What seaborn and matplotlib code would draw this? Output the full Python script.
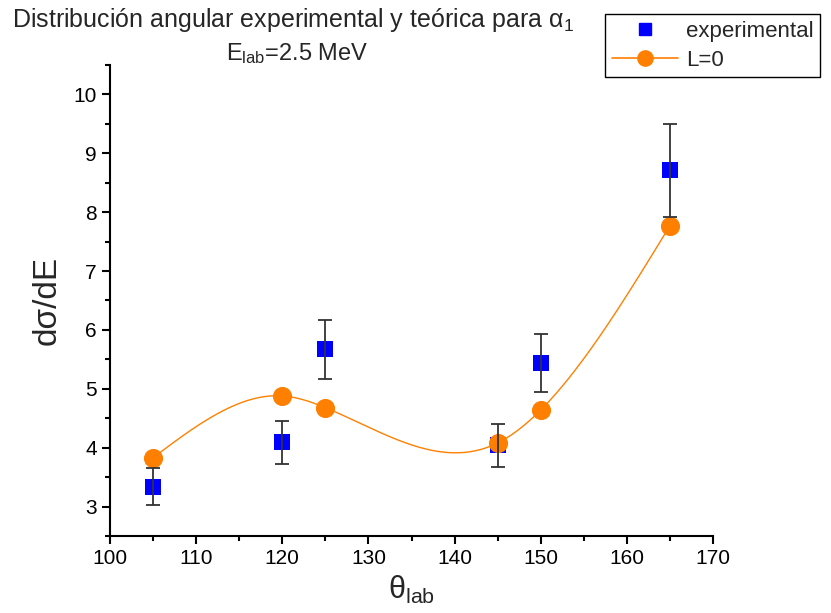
import numpy as np
import pandas as pd
import matplotlib
matplotlib.use("Agg")
import matplotlib.pyplot as plt
import seaborn as sns
from matplotlib.ticker import MultipleLocator
from matplotlib.lines import Line2D

# Measured angular distribution
theta_exp = [105, 120, 125, 145, 150, 165]
sigma_exp = [3.34, 4.09, 5.67, 4.04, 5.44, 8.71]
sigma_err = [0.31, 0.37, 0.50, 0.36, 0.49, 0.79]

# Theoretical values (L=0)
theta_th = [105, 120, 125, 145, 150, 165]
sigma_th = [3.83, 4.88, 4.68, 4.08, 4.64, 7.77]

x_ticks = [100, 110, 120, 130, 140, 150, 160, 170]
y_ticks = [3, 4, 5, 6, 7, 8, 9, 10]


def natural_spline(x, y, n=400):
    """Smooth natural cubic spline through the given nodes."""
    x = np.asarray(x, float)
    y = np.asarray(y, float)
    m = len(x)
    h = np.diff(x)
    A = np.zeros((m, m))
    b = np.zeros(m)
    A[0, 0] = A[-1, -1] = 1.0
    for i in range(1, m - 1):
        A[i, i - 1] = h[i - 1]
        A[i, i] = 2 * (h[i - 1] + h[i])
        A[i, i + 1] = h[i]
        b[i] = 3 * ((y[i + 1] - y[i]) / h[i] - (y[i] - y[i - 1]) / h[i - 1])
    c = np.linalg.solve(A, b)
    xs = np.linspace(x[0], x[-1], n)
    idx = np.clip(np.searchsorted(x, xs) - 1, 0, m - 2)
    hi = h[idx]
    bi = (y[idx + 1] - y[idx]) / hi - hi * (2 * c[idx] + c[idx + 1]) / 3
    di = (c[idx + 1] - c[idx]) / (3 * hi)
    t = xs - x[idx]
    ys = y[idx] + bi * t + c[idx] * t ** 2 + di * t ** 3
    return xs, ys


sns.set_theme(style="ticks")
fam = ["Liberation Sans Narrow", "Liberation Sans", "DejaVu Sans"]
plt.rcParams["font.family"] = fam
plt.rcParams["mathtext.fontset"] = "custom"
plt.rcParams["mathtext.rm"] = fam[1]
plt.rcParams["mathtext.it"] = fam[1]

fig = plt.figure(figsize=(8.31, 6.13), dpi=100)
ax = fig.add_axes([0.1324, 0.1256, 0.7256, 0.7684])

orange = "#FF8000"
blue = "#0000FF"

xs, ys = natural_spline(theta_th, sigma_th)
curve = pd.DataFrame({"theta": xs, "sigma": ys})
sns.lineplot(data=curve, x="theta", y="sigma", ax=ax, color=orange,
             linewidth=1.0, zorder=2, estimator=None, sort=False)

exp_df = pd.DataFrame({"theta": theta_exp, "sigma": sigma_exp})
th_df = pd.DataFrame({"theta": theta_th, "sigma": sigma_th})

sns.scatterplot(data=exp_df, x="theta", y="sigma", ax=ax, marker="s", s=130,
                color=blue, edgecolor=blue, linewidth=0, zorder=3)
sns.scatterplot(data=th_df, x="theta", y="sigma", ax=ax, marker="o", s=190,
                color=orange, edgecolor=orange, linewidth=0, zorder=4)
ax.errorbar(theta_exp, sigma_exp, yerr=sigma_err, fmt="none", ecolor="#333333",
            elinewidth=1.3, capsize=5, capthick=1.3, zorder=5)

ax.set_xlim(100, 170)
ax.set_ylim(2.5, 10.5)
ax.set_xticks(x_ticks)
ax.set_yticks(y_ticks)
ax.xaxis.set_minor_locator(MultipleLocator(5))
ax.yaxis.set_minor_locator(MultipleLocator(0.5))
ax.tick_params(axis="both", which="major", direction="out", length=6, width=1.5,
               labelsize=15, color="black", labelcolor="black")
ax.tick_params(axis="both", which="minor", direction="out", length=3.5, width=1.5,
               color="black")
for side in ("top", "right"):
    ax.spines[side].set_visible(False)
for side in ("left", "bottom"):
    ax.spines[side].set_linewidth(1.5)
    ax.spines[side].set_color("black")

ax.set_xlabel(r"θ$_{\mathrm{lab}}$", fontsize=22, labelpad=4)
ax.set_ylabel("dσ/dE", fontsize=24, labelpad=8)

fig.text(0.352, 0.967, r"Distribución angular experimental y teórica para α$_{1}$",
         ha="center", va="center", fontsize=18)
fig.text(0.358, 0.912, r"E$_{\mathrm{lab}}$=2.5 MeV", ha="center", va="center",
         fontsize=17)

handles = [
    Line2D([], [], marker="s", color=blue, linestyle="none", markersize=8),
    Line2D([], [], marker="o", color=orange, linestyle="-", linewidth=1.2,
           markersize=11),
]
leg = fig.legend(handles, ["experimental", "L=0"], loc="upper left",
                 bbox_to_anchor=(0.728, 0.977), borderaxespad=0, fontsize=16,
                 frameon=True, fancybox=False, edgecolor="black", framealpha=1,
                 handlelength=3.0, borderpad=0.3, labelspacing=0.35,
                 handletextpad=0.35)
leg.get_frame().set_linewidth(1.0)

fig.savefig("out.png", dpi=100)
